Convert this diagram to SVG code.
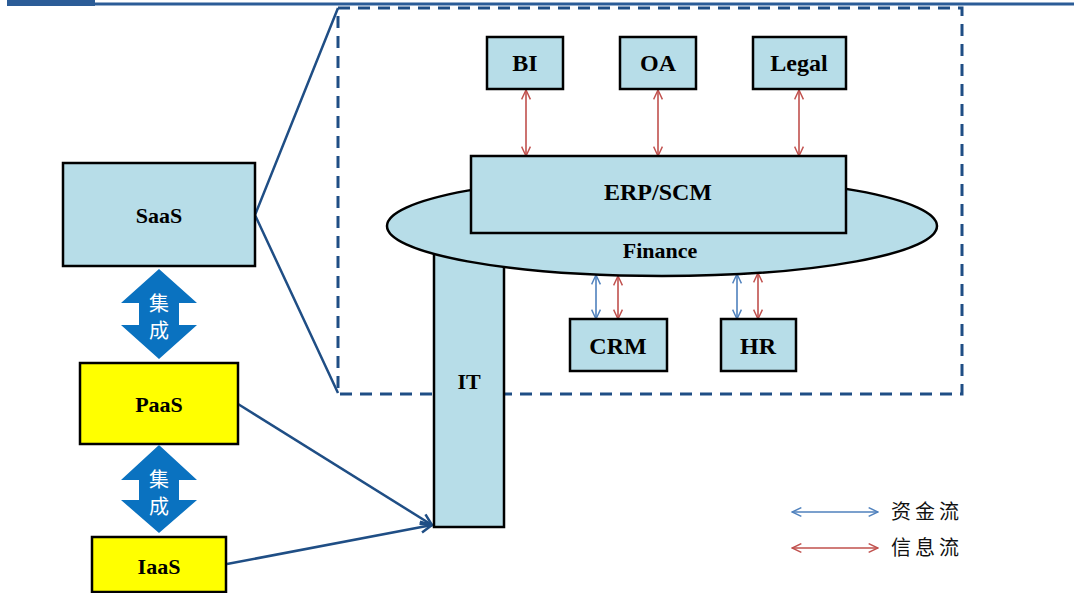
<svg xmlns="http://www.w3.org/2000/svg" width="1082" height="593" viewBox="0 0 1082 593">
  <style>
    .box { fill: #b7dde8; stroke: #000; stroke-width: 2.5; }
    .ybox { fill: #ffff00; stroke: #000; stroke-width: 2.5; }
    .lbl { font-family: "Liberation Serif", "Times New Roman", serif; font-weight: bold; font-size: 22px; fill: #000; text-anchor: middle; dominant-baseline: central; }
    .big { font-size: 24px; }
    .link { stroke: #1f4e85; stroke-width: 2.5; fill: none; }
    .info { stroke: #c0504d; stroke-width: 1.6; fill: none; marker-start: url(#redHead); marker-end: url(#redHead); }
    .fund { stroke: #4f81bd; stroke-width: 1.6; fill: none; marker-start: url(#blueHead); marker-end: url(#blueHead); }
    .integ { fill: #0a72c0; }
    .integ-txt { font-family: "Noto Sans CJK SC", sans-serif; font-size: 20px; fill: #fff; text-anchor: middle; dominant-baseline: central; }
    .legend { font-family: "Noto Sans CJK SC", sans-serif; font-size: 20px; fill: #111; letter-spacing: 4px; dominant-baseline: central; }
  </style>
  <defs>
    <marker id="redHead" viewBox="0 0 10 10" refX="9.5" refY="5" markerWidth="11" markerHeight="11" orient="auto-start-reverse" markerUnits="userSpaceOnUse">
      <path d="M1,1 L9.5,5 L1,9" fill="none" stroke="#c0504d" stroke-width="1.3"/>
    </marker>
    <marker id="blueHead" viewBox="0 0 10 10" refX="9.5" refY="5" markerWidth="11" markerHeight="11" orient="auto-start-reverse" markerUnits="userSpaceOnUse">
      <path d="M1,1 L9.5,5 L1,9" fill="none" stroke="#4f81bd" stroke-width="1.3"/>
    </marker>
    <marker id="navyHead" viewBox="0 0 10 10" refX="9" refY="5" markerWidth="14" markerHeight="14" orient="auto" markerUnits="userSpaceOnUse">
      <path d="M1,1 L9,5 L1,9" fill="none" stroke="#1f4e85" stroke-width="1.8"/>
    </marker>
  </defs>

  <!-- header rule -->
  <rect x="7" y="0" width="88" height="6" fill="#2b5c97"/>
  <line x1="95" y1="4" x2="1074" y2="4" stroke="#2b5c97" stroke-width="3"/>

  <!-- SaaS detail frame -->
  <rect x="338" y="8" width="624" height="386" fill="none" stroke="#1f4e85" stroke-width="3" stroke-dasharray="12 8"/>

  <!-- connectors -->
  <g id="connectors">
    <polyline class="link" points="338,8 255,215 338,393"/>
    <line class="link" x1="238" y1="404" x2="432" y2="525" marker-end="url(#navyHead)"/>
    <line class="link" x1="227" y1="564" x2="432" y2="525" marker-end="url(#navyHead)"/>
    <line class="info" x1="526" y1="90" x2="526" y2="156"/>
    <line class="info" x1="658" y1="90" x2="658" y2="156"/>
    <line class="info" x1="799" y1="90" x2="799" y2="156"/>
    <line class="fund" x1="596" y1="275" x2="596" y2="319"/>
    <line class="info" x1="618" y1="276" x2="618" y2="319"/>
    <line class="fund" x1="737" y1="274" x2="737" y2="319"/>
    <line class="info" x1="758" y1="273" x2="758" y2="319"/>
  </g>

  <!-- IT column (sits under Finance) -->
  <g id="it">
    <rect class="box" x="434" y="240" width="70" height="287"/>
    <text class="lbl" x="469" y="381">IT</text>
  </g>

  <g id="finance">
    <ellipse class="box" cx="662" cy="226" rx="275" ry="50"/>
    <text class="lbl" x="660" y="250">Finance</text>
  </g>

  <g id="erp">
    <rect class="box" x="471" y="156" width="375" height="77"/>
    <text class="lbl big" x="658" y="192">ERP/SCM</text>
  </g>

  <g id="bi">
    <rect class="box" x="487" y="37" width="76" height="52"/>
    <text class="lbl big" x="525" y="63">BI</text>
  </g>
  <g id="oa">
    <rect class="box" x="620" y="37" width="76" height="52"/>
    <text class="lbl big" x="658" y="63">OA</text>
  </g>
  <g id="legal">
    <rect class="box" x="753" y="37" width="93" height="52"/>
    <text class="lbl big" x="799" y="63">Legal</text>
  </g>
  <g id="crm">
    <rect class="box" x="570" y="319" width="97" height="52"/>
    <text class="lbl big" x="618" y="346">CRM</text>
  </g>
  <g id="hr">
    <rect class="box" x="721" y="319" width="75" height="52"/>
    <text class="lbl big" x="758" y="346">HR</text>
  </g>

  <g id="saas">
    <rect class="box" x="63" y="163" width="192" height="103"/>
    <text class="lbl" x="159" y="215">SaaS</text>
  </g>
  <g id="paas">
    <rect class="ybox" x="80" y="363" width="158" height="81"/>
    <text class="lbl" x="159" y="404">PaaS</text>
  </g>
  <g id="iaas">
    <rect class="ybox" x="92" y="537" width="134" height="55"/>
    <text class="lbl" x="159" y="566">IaaS</text>
  </g>

  <!-- integration arrows -->
  <g id="integ1">
    <polygon class="integ" points="159,269 197,303 179,303 179,325 197,325 159,359 121,325 139,325 139,303 121,303"/>
    <text class="integ-txt" x="159" y="302">集</text>
    <text class="integ-txt" x="159" y="329">成</text>
  </g>
  <g id="integ2">
    <polygon class="integ" points="159,445 197,480 179,480 179,500 197,500 159,533 121,500 139,500 139,480 121,480"/>
    <text class="integ-txt" x="159" y="478">集</text>
    <text class="integ-txt" x="159" y="505">成</text>
  </g>

  <!-- legend -->
  <g id="legend">
    <line class="fund" x1="792" y1="512" x2="878" y2="512"/>
    <text class="legend" x="891" y="510">资金流</text>
    <line class="info" x1="792" y1="548" x2="878" y2="548"/>
    <text class="legend" x="891" y="546">信息流</text>
  </g>
</svg>
